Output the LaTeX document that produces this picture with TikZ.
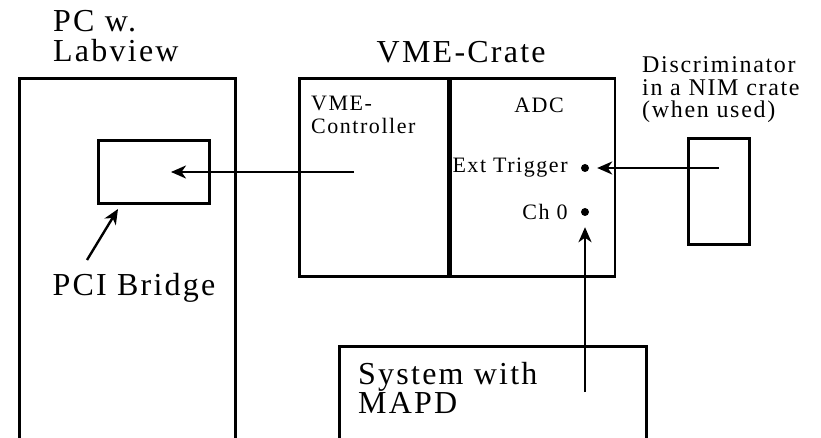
\documentclass[tikz,border=0pt]{standalone}
\usepackage{fontspec}
\setmainfont{Liberation Serif}[LetterSpace=7]
\usepackage{tikz}
\usetikzlibrary{arrows.meta, positioning, calc, fit}

\begin{document}
\begin{tikzpicture}[
    x=1pt, y=-1pt,
    box/.style={draw, line width=2.7pt, inner sep=0pt, anchor=north west},
    lbl/.style={font=\fontsize{32}{29.5}\selectfont, align=left, inner sep=0pt},
    smalltxt/.style={font=\fontsize{22}{23}\selectfont, align=left, inner sep=0pt},
    dot/.style={circle, fill=black, inner sep=0pt, minimum size=8pt},
    arr/.style={-{Stealth[length=15pt, width=13pt, inset=4.5pt]}, line width=2.4pt},
  ]
  \clip (0,0) rectangle (821,438);
  \fill[white] (0,0) rectangle (821,438);

  \node[box, minimum width=216pt, minimum height=400pt] (pc) at (18,77) {};
  \node[box, minimum width=111pt, minimum height=63pt] (pci) at (97,139) {};
  \node[box, minimum width=149pt, minimum height=198pt] (ctrl) at (298,77) {};
  \node[box, minimum width=164pt, minimum height=198pt] (adc) at (ctrl.north east) {};
  \node[box, minimum width=61pt, minimum height=106pt] (disc) at (687,137) {};
  \node[box, minimum width=307pt, minimum height=120pt] (mapd) at (338,345) {};
  \node[fit=(ctrl)(adc), inner sep=0pt] (crate) {};

  % Labels
  \node[lbl, above right=15pt and 35pt of pc.north west] (pcname) {PC w.\\Labview};
  \node[lbl, above=14pt of crate, xshift=4pt] (cratename) {VME-Crate};
  \node[smalltxt, below right=19pt and 13pt of ctrl.north west] (ctrlname) {VME-\\Controller};
  \node[smalltxt, below=21pt of adc.north, xshift=6pt] (adcname) {ADC};
  \node[dot] (trig) at (585,168) {};
  \node[dot] (ch0) at (585,212) {};
  \node[smalltxt, left=13pt of trig] (trigname) {Ext Trigger};
  \node[smalltxt, left=13pt of ch0] (chname) {Ch 0};
  \node[smalltxt, font=\fontsize{24}{22.5}\selectfont, above right=14pt and -45pt of disc.north west] (discname) {Discriminator\\in a NIM crate\\(when used)};
  \node[lbl, below right=17pt and 20pt of mapd.north west] (mapdname) {System with\\MAPD};
  \node[lbl, below=68pt of pci.south west, xshift=37pt] (pciname) {PCI Bridge};

  \coordinate (ctrlout) at (354,172);
  \coordinate (pciin) at (171,172);
  \coordinate (bridgefrom) at (87,260);
  \coordinate (bridgeto) at (118,209);
  \coordinate (mapdout) at (585,392);

  \draw[arr] (ctrlout) -- (pciin);
  \draw[arr] (bridgefrom) -- (bridgeto);
  \draw[arr, shorten >=8pt] (disc.center |- trig) -- (trig);
  \draw[arr, shorten >=11pt] (mapdout) -- (ch0);
\end{tikzpicture}
\end{document}
